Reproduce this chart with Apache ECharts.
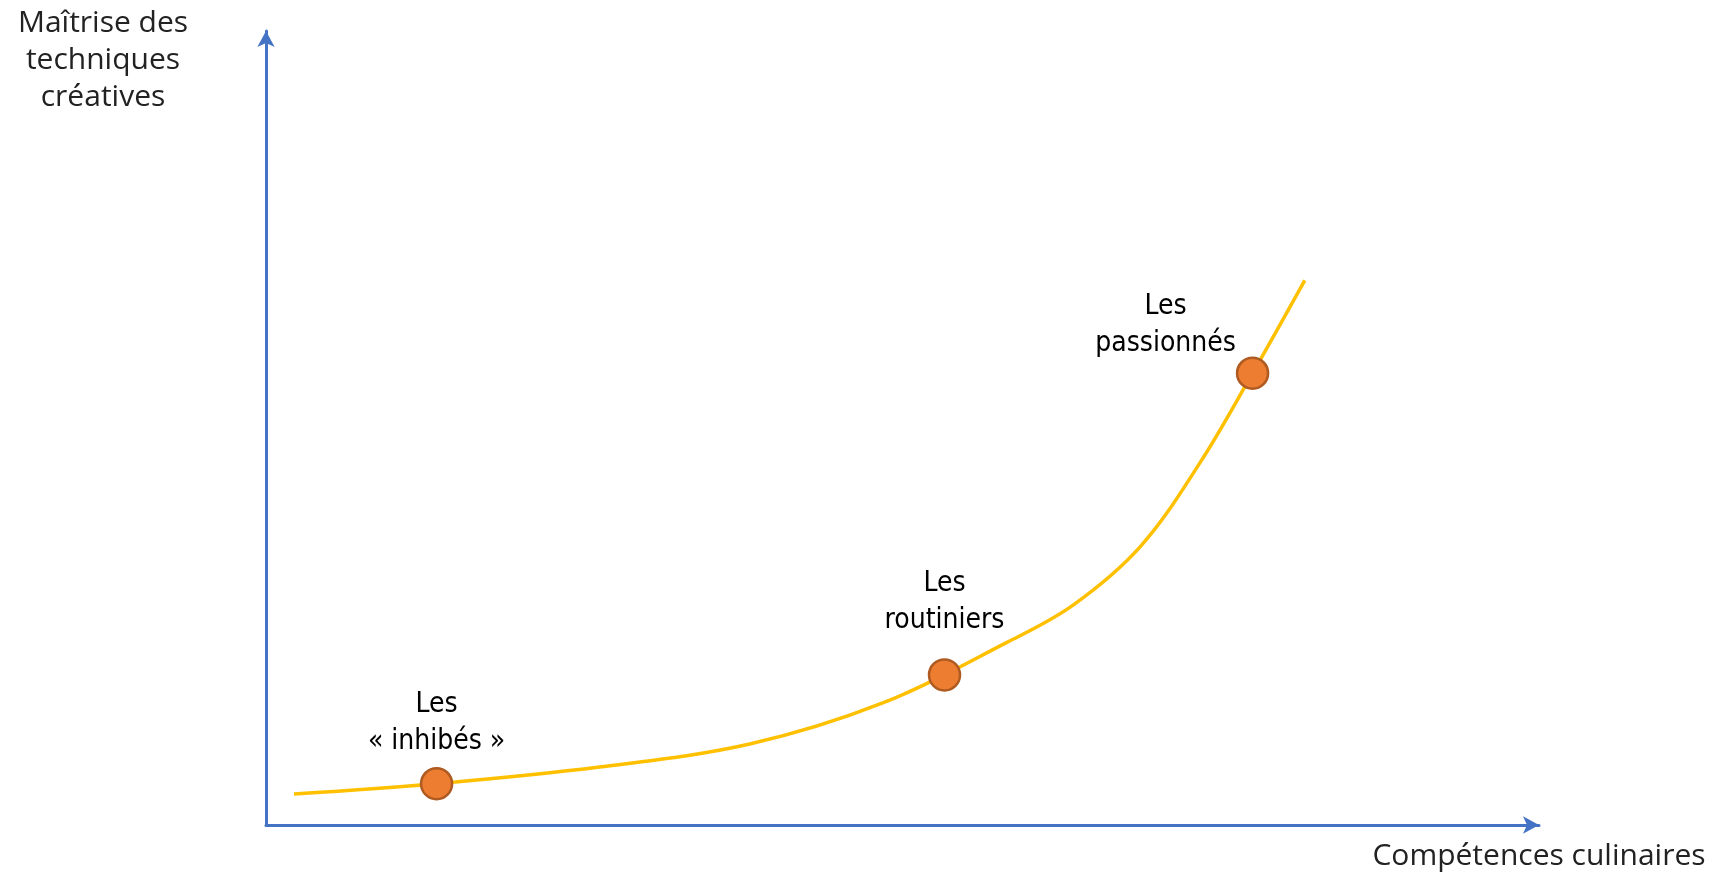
<!DOCTYPE html>
<html>
<head>
<meta charset="utf-8">
<script src="https://cdn.jsdelivr.net/npm/echarts@6/dist/echarts.min.js"></script>
<style>html,body{margin:0;padding:0;background:#fff;}#c{width:1711px;height:872px;}</style>
</head>
<body>
<div id="c"></div>
<script>
// Curve (x: compétences culinaires, y: maîtrise des techniques créatives), 0-100 scale
const curveX = [2.2, 13.4, 26.2, 38.0, 48.5, 58.2, 63.4, 68.7, 73.4, 77.5, 81.6];
const curveY = [3.9, 5.2, 7.3, 10.2, 15.4, 23.0, 27.7, 35.1, 45.7, 56.9, 68.6];
// Profiles
const profileNames = ['Les\n« inhibés »', 'Les\nroutiniers', 'Les\npassionnés'];
const profileX = [13.4, 53.3, 77.5];
const profileY = [5.2, 18.9, 56.9];
const xTitle = 'Compétences culinaires';
const yTitle = 'Maîtrise des\ntechniques\ncréatives';

const labelOffsets = [[0, -2], [0, -14], [-87, 11]];

const chart = echarts.init(document.getElementById('c'));
chart.setOption({
  animation: false,
  grid: { left: 266, right: 172, top: 31, bottom: 47 },
  xAxis: {
    type: 'value', min: 0, max: 100,
    name: xTitle, nameLocation: 'end', nameGap: 0,
    nameTextStyle: { fontFamily: 'Open Sans', fontSize: 30, color: '#222', align: 'center', verticalAlign: 'top', padding: [16, 0, 0, 0] },
    axisLine: { show: true, lineStyle: { color: '#4472C4', width: 3 }, symbol: ['none', 'arrow'], symbolSize: [13, 16] },
    axisTick: { show: false }, axisLabel: { show: false }, splitLine: { show: false }
  },
  yAxis: {
    type: 'value', min: 0, max: 100,
    name: yTitle, nameLocation: 'end', nameGap: -85,
    nameTextStyle: { fontFamily: 'Open Sans', fontSize: 30, color: '#222', align: 'center', verticalAlign: 'bottom', lineHeight: 37, padding: [0, 326, 0, 0] },
    axisLine: { show: true, lineStyle: { color: '#4472C4', width: 3 }, symbol: ['none', 'arrow'], symbolSize: [13, 16] },
    axisTick: { show: false }, axisLabel: { show: false }, splitLine: { show: false }
  },
  series: [
    {
      type: 'line', smooth: 0.35, showSymbol: false, silent: true,
      data: curveX.map((x, i) => [x, curveY[i]]),
      lineStyle: { color: '#FFC000', width: 3.5 }, z: 2
    },
    {
      type: 'scatter', symbol: 'circle', symbolSize: 31,
      itemStyle: { color: '#ED7D31', borderColor: '#AE5A21', borderWidth: 2.5, opacity: 1 },
      data: profileX.map((x, i) => ({
        value: [x, profileY[i]],
        name: profileNames[i],
        label: { offset: labelOffsets[i] }
      })),
      label: {
        show: true, position: 'top', distance: 5,
        formatter: p => p.name,
        fontFamily: '"DejaVu Sans Condensed", "Liberation Sans Narrow", sans-serif',
        fontSize: 28, lineHeight: 37, color: '#000', align: 'center'
      },
      z: 3
    }
  ]
});
</script>
</body>
</html>
